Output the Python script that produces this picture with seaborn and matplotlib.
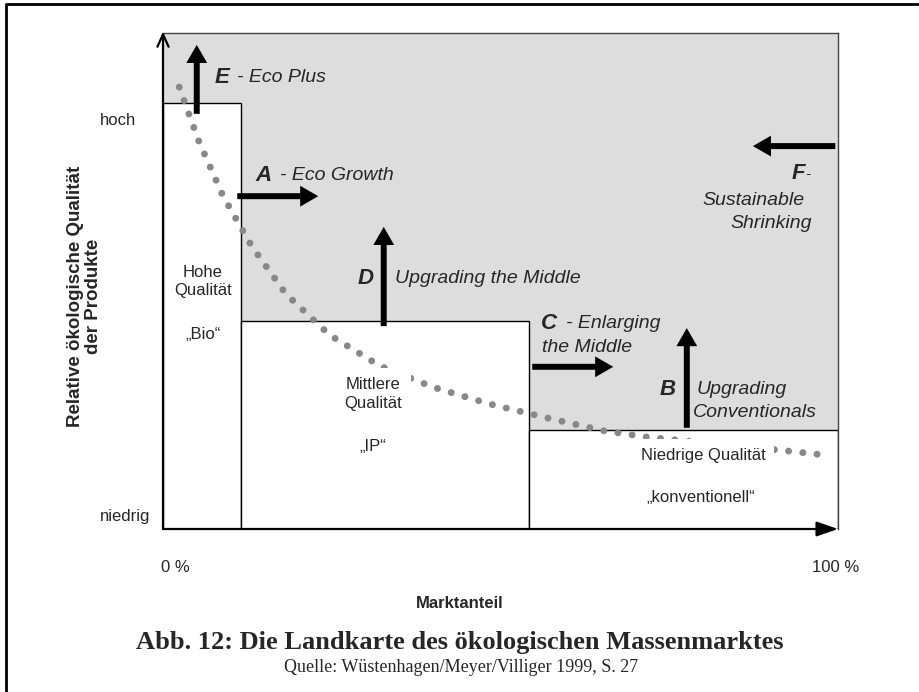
import matplotlib
matplotlib.use("Agg")
import matplotlib.pyplot as plt
import seaborn as sns
import pandas as pd
from matplotlib.lines import Line2D

# segments of the market: left edge, width (market share %) and eco quality level
segment_left = [0, 11.6, 54.2]
segment_width = [11.6, 42.6, 45.8]
segment_quality = [85.9, 41.9, 20.0]

# dotted "market curve"
curve_share = [2.4, 5.3, 8.9, 13.2, 18.2, 24.7, 32.1, 40.0, 48.4, 56.9, 65.3, 71.9, 91.4, 98.1]
curve_quality = [89.1, 78.2, 67.1, 56.9, 47.4, 39.1, 32.9, 28.6, 25.2, 22.4, 19.8, 18.5, 15.9, 14.9]

x_ticks = ["0 %", "100 %"]
y_ticks = ["hoch", "niedrig"]

sns.set_theme(style="white")
plt.rcParams['font.family'] = ['Liberation Sans', 'DejaVu Sans']

fig = plt.figure(figsize=(9.19, 6.92), dpi=100)
W, H = 919, 692
ax = fig.add_axes([163 / W, (H - 529) / H, 675 / W, 496 / H])
ax.set_xlim(0, 100)
ax.set_ylim(0, 100)
ax.set_facecolor('#dddddd')
ax.set_xticks([])
ax.set_yticks([])
for side in ['left', 'bottom']:
    ax.spines[side].set_visible(False)
for side in ['top', 'right']:
    ax.spines[side].set_color('#444444')
    ax.spines[side].set_linewidth(1.0)

# white segment boxes
ax.bar(segment_left, segment_quality, width=segment_width, align='edge',
       color='white', edgecolor='black', linewidth=1.0, zorder=1)

# dotted curve
df = pd.DataFrame({'share': curve_share, 'quality': curve_quality})
sns.lineplot(data=df, x='share', y='quality', ax=ax, color='#888888',
             linewidth=5.0, linestyle=(0, (0.01, 2.05)), dash_capstyle='round',
             zorder=2)
ax.set_xlabel('')
ax.set_ylabel('')

# axis arrows
ax.annotate('', xy=(0, 100.3), xytext=(0, 0), xycoords='data',
            arrowprops=dict(arrowstyle='->,head_length=0.9,head_width=0.4',
                            lw=1.6, color='black', shrinkA=0, shrinkB=0,
                            mutation_scale=10), annotation_clip=False, zorder=5)
ax.annotate('', xy=(100, 0), xytext=(0, 0), xycoords='data',
            arrowprops=dict(arrowstyle='-|>,head_length=1.3,head_width=0.45',
                            lw=1.6, color='black', shrinkA=0, shrinkB=0,
                            mutation_scale=10), annotation_clip=False, zorder=5)

# strategy arrows (tail -> tip)
big = dict(arrowstyle='simple,head_length=1.3,head_width=1.5,tail_width=0.43',
           mutation_scale=10, fc='black', ec='none', lw=0, shrinkA=0, shrinkB=0)
arrows = [((5.0, 83.7), (5.0, 97.6)),     # E
          ((11.0, 67.1), (23.0, 67.1)),   # A
          ((32.7, 40.9), (32.7, 60.9)),   # D
          ((54.7, 32.7), (66.7, 32.7)),   # C
          ((77.6, 20.4), (77.6, 40.5)),   # B
          ((99.6, 77.2), (87.4, 77.2))]   # F
for tail, tip in arrows:
    ax.annotate('', xy=tip, xytext=tail, arrowprops=big, zorder=4)

# strategy labels
fs = 14
bi = dict(fontsize=16, fontweight='bold', fontstyle='italic', va='center', zorder=6)
it = dict(fontsize=fs, fontstyle='italic', va='center', zorder=6)
ax.text(7.6, 91.1, 'E', ha='left', **bi)
ax.text(11.0, 91.1, '- Eco Plus', ha='left', **it)
ax.text(13.7, 71.2, 'A', ha='left', **bi)
ax.text(17.3, 71.2, '- Eco Growth', ha='left', **it)
ax.text(28.9, 50.6, 'D', ha='left', **bi)
ax.text(34.4, 50.6, 'Upgrading the Middle', ha='left', **it)
ax.text(56.0, 41.5, 'C', ha='left', **bi)
ax.text(59.7, 41.5, '- Enlarging', ha='left', **it)
ax.text(56.1, 36.5, 'the Middle', ha='left', **it)
ax.text(73.5, 28.2, 'B', ha='left', **bi)
ax.text(79.0, 28.2, 'Upgrading', ha='left', **it)
ax.text(78.5, 23.4, 'Conventionals', ha='left', **it)
ax.text(95.1, 71.6, 'F', ha='right', **bi)
ax.text(95.1, 71.6, '-', ha='left', fontsize=11, fontstyle='italic', va='center')
ax.text(95.1, 66.3, 'Sustainable', ha='right', **it)
ax.text(96.1, 61.5, 'Shrinking', ha='right', **it)

# segment labels
sl = dict(fontsize=12, ha='center', va='center', zorder=3)
ax.text(5.9, 49.9, 'Hohe\nQualität', linespacing=1.3, **sl)
ax.text(5.9, 39.3, '\u201eBio\u201c', **sl)
ax.text(31.1, 27.2, 'Mittlere\nQualität', linespacing=1.3,
        bbox=dict(facecolor='white', edgecolor='none', pad=7), **sl)
ax.text(31.1, 16.6, '\u201eIP\u201c', **sl)
ax.text(80.0, 14.9, 'Niedrige Qualität',
        bbox=dict(facecolor='white', edgecolor='none', pad=6), **sl)
ax.text(79.6, 6.3, '\u201ekonventionell\u201c', **sl)

# axis tick labels and titles
ax.text(-9.3, 82.3, y_ticks[0], ha='left', va='center', fontsize=12, clip_on=False)
ax.text(-9.3, 2.6, y_ticks[1], ha='left', va='center', fontsize=12, clip_on=False)
ax.text(1.9, -7.7, x_ticks[0], ha='center', va='center', fontsize=12, clip_on=False)
ax.text(99.6, -7.7, x_ticks[1], ha='center', va='center', fontsize=12, clip_on=False)
ax.text(44.0, -15.1, 'Marktanteil', ha='center', va='center', fontsize=12,
        fontweight='bold', clip_on=False)
ax.text(-11.6, 46.8, 'Relative ökologische Qualität\nder Produkte', rotation=90,
        ha='center', va='center', fontsize=13.5, fontweight='bold',
        linespacing=1.05, clip_on=False)

# caption
fig.text(460 / W, 1 - 643 / H, 'Abb. 12: Die Landkarte des ökologischen Massenmarktes',
         ha='center', va='center', fontsize=19, fontweight='bold',
         family=['Liberation Serif', 'DejaVu Serif'])
fig.text(461 / W, 1 - 667 / H, 'Quelle: Wüstenhagen/Meyer/Villiger 1999, S. 27',
         ha='center', va='center', fontsize=13,
         family=['Liberation Serif', 'DejaVu Serif'])

# frame (left and top only, as in the scan)
fig.add_artist(Line2D([6 / W, 6 / W, 918 / W], [0, 1 - 4 / H, 1 - 4 / H],
                      color='black', linewidth=2.0))

fig.savefig('out.png', dpi=100)
